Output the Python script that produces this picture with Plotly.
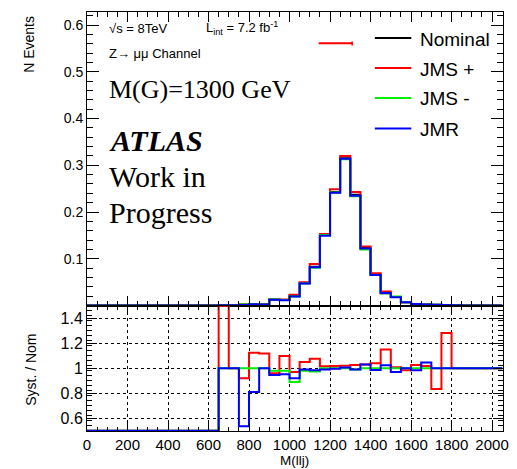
import numpy as np
import plotly.graph_objects as go

# ---------------- data ----------------
bin_edges = list(range(0, 2100, 50))  # 0..2050, 41 bins

zeros13 = [0.0] * 13  # bins 0-650 GeV
nominal = zeros13 + [0.0003, 0.0005, 0.002, 0.003, 0.002, 0.013, 0.012, 0.021, 0.048, 0.083, 0.151,
                     0.243, 0.315, 0.237, 0.123, 0.066, 0.026, 0.018, 0.007, 0.003, 0.002, 0.0015,
                     0.001, 0.0005, 0.0, 0.0, 0.0, 0.0]
jms_up = zeros13 + [0.0008, 0.0005, 0.0018, 0.0034, 0.0022, 0.0125, 0.013, 0.023, 0.050, 0.089, 0.153,
                    0.249, 0.320, 0.243, 0.126, 0.069, 0.030, 0.018, 0.007, 0.003, 0.002, 0.0013,
                    0.0013, 0.0005, 0.0, 0.0, 0.0, 0.0]
jms_down = zeros13 + [0.0003, 0.0005, 0.002, 0.003, 0.002, 0.013, 0.0118, 0.019, 0.047, 0.081, 0.151,
                      0.242, 0.313, 0.234, 0.120, 0.065, 0.026, 0.019, 0.007, 0.003, 0.002, 0.0015,
                      0.001, 0.0005, 0.0, 0.0, 0.0, 0.0]
jmr = zeros13 + [0.0003, 0.0005, 0.001, 0.0025, 0.002, 0.0124, 0.0115, 0.019, 0.047, 0.082, 0.149,
                 0.241, 0.314, 0.235, 0.122, 0.065, 0.0265, 0.0175, 0.007, 0.003, 0.002, 0.0015,
                 0.001, 0.0005, 0.0, 0.0, 0.0, 0.0]

ratio_jms_up = zeros13 + [2.0, 1.0, 0.92, 1.124, 1.118, 0.96, 1.097, 0.97, 1.05, 1.076, 1.016, 1.018,
                          1.02, 1.026, 1.03, 1.04, 1.15, 1.008, 0.984, 1.026, 1.018, 0.834, 1.28,
                          1.0, 1.0, 1.0, 1.0, 1.0]
ratio_jms_down = zeros13 + [1.0, 1.0, 1.0, 1.0, 1.0, 0.98, 0.98, 0.89, 0.98, 0.974, 1.0, 1.0, 1.0,
                            0.99, 1.0, 1.0, 1.0, 1.0, 1.0, 1.0, 1.0, 1.0, 1.0, 1.0, 1.0, 1.0, 1.0, 1.0]
ratio_jmr = zeros13 + [1.0, 1.0, 0.537, 0.81, 1.0, 0.947, 0.953, 0.92, 0.99, 0.984, 0.99, 0.997,
                       1.005, 0.99, 1.03, 0.987, 1.024, 0.97, 1.0, 0.984, 1.045, 1.0, 1.0,
                       1.0, 1.0, 1.0, 1.0, 1.0]

series_names = ["Nominal", "JMS +", "JMS -", "JMR"]
series_colors = ["#000000", "#ff0000", "#00ee00", "#0000ff"]

x_ticks = list(range(0, 2001, 200))
top_yticks = [0.1, 0.2, 0.3, 0.4, 0.5, 0.6]
bot_yticks = [0.6, 0.8, 1.0, 1.2, 1.4]

# ---------------- layout geometry ----------------
W, H = 517, 469
L, R, T, B = 87, 8, 12, 38
PW, PH = W - L - R, H - T - B
split = ((H - B) - 305.5) / PH
RMIN, RMAX = 0.5, 1.5


def px(x):
    return (x - L) / PW


def py(y):
    return (H - B - y) / PH


def step(vals):
    return bin_edges, list(vals) + [vals[-1]]


fig = go.Figure()

for name, vals, col in zip(series_names, [nominal, jms_up, jms_down, jmr], series_colors):
    xs, ys = step(vals)
    fig.add_trace(go.Scatter(x=xs, y=ys, mode="lines", line=dict(color=col, width=2, shape="hv"),
                             name=name, xaxis="x", yaxis="y", showlegend=False))

for vals, col in zip([ratio_jms_up, ratio_jms_down, ratio_jmr], series_colors[1:]):
    clipped = list(np.clip(vals, RMIN + 0.002, RMAX - 0.002))
    xs, ys = step(clipped)
    fig.add_trace(go.Scatter(x=xs, y=ys, mode="lines", line=dict(color=col, width=2, shape="hv"),
                             xaxis="x2", yaxis="y2", showlegend=False))

axis_common = dict(showline=True, linecolor="black", linewidth=1, mirror="ticks", ticks="inside",
                   tickcolor="black", zeroline=False)
font_ax = "Liberation Sans, Arial, sans-serif"

fig.update_layout(
    width=W, height=H, margin=dict(l=L, r=R, t=T, b=B),
    plot_bgcolor="white", paper_bgcolor="white",
    font=dict(family=font_ax, color="black"),
    xaxis=dict(domain=[0, 1], anchor="y", range=[0, 2054], tickvals=x_ticks, showticklabels=False,
               ticklen=10, showgrid=False,
               minor=dict(dtick=50, tick0=0, ticklen=5, ticks="inside", tickcolor="black", showgrid=False),
               **axis_common),
    yaxis=dict(domain=[split, 1], anchor="x", range=[0, 0.628], tickvals=top_yticks,
               ticktext=[f"{v:g}" for v in top_yticks], ticklen=12, showgrid=False,
               tickfont=dict(size=14),
               minor=dict(dtick=0.02, tick0=0, ticklen=6, ticks="inside", tickcolor="black", showgrid=False),
               **axis_common),
    xaxis2=dict(domain=[0, 1], anchor="y2", range=[0, 2054], tickvals=x_ticks, matches="x",
                ticklen=8, tickfont=dict(size=15),
                showgrid=True, gridcolor="black", griddash="dot", gridwidth=1,
                minor=dict(dtick=50, tick0=0, ticklen=4, ticks="inside", tickcolor="black", showgrid=False),
                **axis_common),
    yaxis2=dict(domain=[0, split], anchor="x2", range=[RMIN, RMAX], tickvals=bot_yticks,
                ticktext=["0.6", "0.8", "1", "1.2", "1.4"], ticklen=10, tickfont=dict(size=16),
                showgrid=True, gridcolor="black", griddash="dot", gridwidth=1,
                minor=dict(dtick=0.04, tick0=0.5, ticklen=5, ticks="inside", tickcolor="black", showgrid=False),
                **axis_common),
)

ann = []
shapes = []

# axis titles
ann.append(dict(text="N Events", x=px(28), y=py(44), textangle=-90, font=dict(size=14)))
ann.append(dict(text="Syst. / Nom", x=px(30), y=py(370), textangle=-90, font=dict(size=14)))
ann.append(dict(text="M(llj)", x=px(297), y=py(469), yanchor="bottom", borderpad=0, font=dict(size=13.5)))

# info texts
ann.append(dict(text="√s = 8TeV", x=px(107), y=py(28), xanchor="left", font=dict(size=13)))
ann.append(dict(text="L<sub>int</sub> = 7.2 fb<sup>-1</sup>", x=px(206), y=py(28), xanchor="left",
                font=dict(size=13)))
ann.append(dict(text="Z→ μμ Channel", x=px(107), y=py(54), xanchor="left", font=dict(size=13)))
serif = "Liberation Serif, Times New Roman, serif"
ann.append(dict(text="M(G)=1300 GeV", x=px(107), y=py(90), xanchor="left", font=dict(size=26, family=serif)))
ann.append(dict(text="<b><i>ATLAS</i></b>", x=px(107), y=py(140), xanchor="left",
                font=dict(size=30, family=serif)))
ann.append(dict(text="Work in", x=px(107), y=py(176), xanchor="left", font=dict(size=30, family=serif)))
ann.append(dict(text="Progress", x=px(107), y=py(212), xanchor="left", font=dict(size=30, family=serif)))

# legend
leg_y = [39, 69, 99, 129.5]
for name, col, yy in zip(series_names, series_colors, leg_y):
    shapes.append(dict(type="line", xref="paper", yref="paper", x0=px(379), x1=px(416), y0=py(yy - 1),
                       y1=py(yy - 1), line=dict(color=col, width=2)))
    ann.append(dict(text=name, x=px(423), y=py(yy), xanchor="left", font=dict(size=19)))

# stray red marker line
shapes.append(dict(type="line", xref="paper", yref="paper", x0=px(322), x1=px(356), y0=py(43.3), y1=py(43.3),
                   line=dict(color="#ff0000", width=2)))
shapes.append(dict(type="line", xref="paper", yref="paper", x0=px(356), x1=px(356), y0=py(41.5), y1=py(45.5),
                   line=dict(color="#ff0000", width=1.5)))

for a in ann:
    a.setdefault("xref", "paper")
    a.setdefault("yref", "paper")
    a.setdefault("showarrow", False)
    a.setdefault("yanchor", "middle")
    a.setdefault("xanchor", "center")

fig.update_layout(annotations=ann, shapes=shapes)
fig.write_html("out.html")
